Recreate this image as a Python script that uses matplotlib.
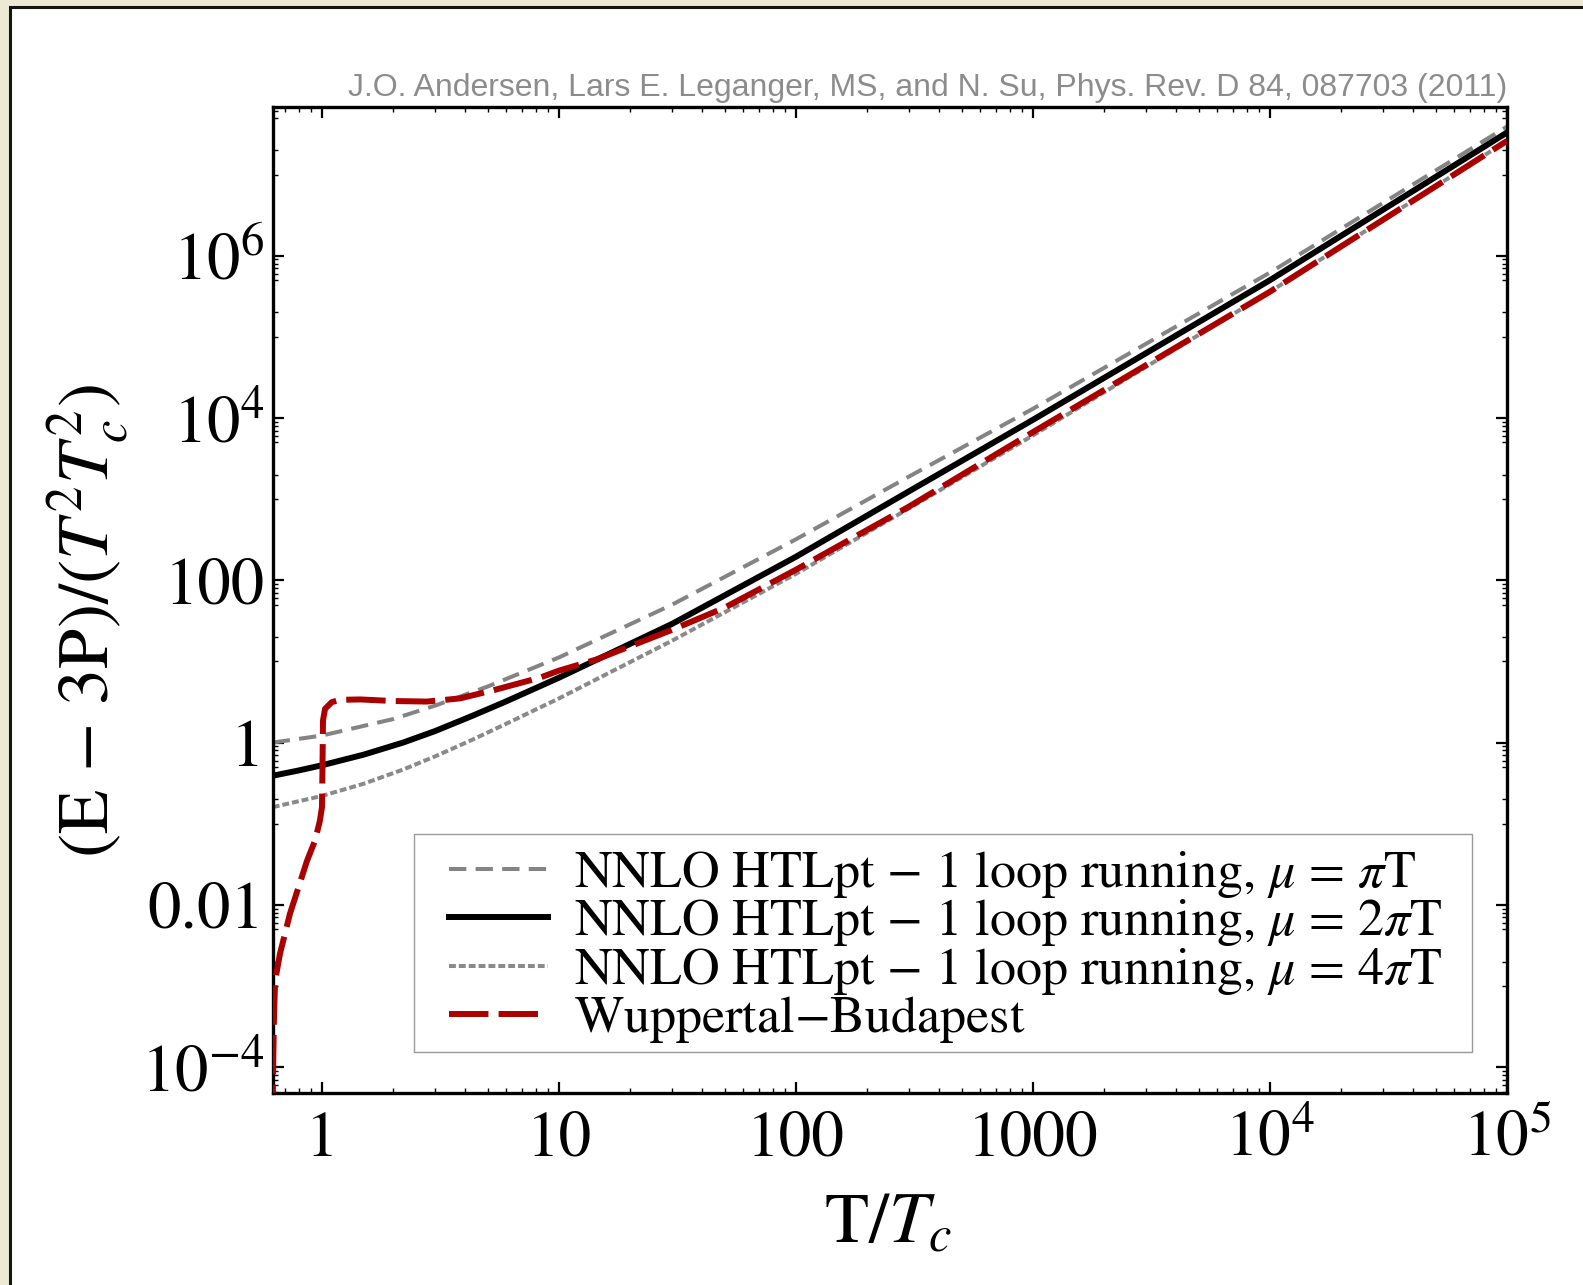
import numpy as np
import matplotlib.pyplot as plt
from matplotlib.patches import Rectangle
from matplotlib.ticker import FixedLocator, NullFormatter

plt.rcParams['font.family'] = 'STIXGeneral'
plt.rcParams['mathtext.fontset'] = 'stix'

# -- Curves: T/Tc and (E-3P)/(T^2 Tc^2)
T_pi = [0.62, 1, 2, 3, 5, 10, 30, 100, 300, 1000, 1e4, 1e5]
E_pi = [1.0, 1.22, 1.95, 2.85, 4.9, 11.2, 50, 320, 1900, 1.3e4, 6.2e5, 3.9e7]

T_2pi = [0.62, 0.8, 1, 1.5, 2.2, 3, 4.3, 5.9, 10, 30, 100, 300, 1000, 1e4, 1e5]
E_2pi = [0.39, 0.454, 0.525, 0.71, 1.0, 1.385, 2.13, 3.16, 6.3, 29, 195, 1250, 9.5e3, 5.0e5, 3.3e7]

T_4pi = [0.62, 1, 1.5, 2.2, 3, 4.3, 5.9, 10, 30, 100, 300, 1000, 1e4, 1e5]
E_4pi = [0.16, 0.22, 0.311, 0.465, 0.675, 1.08, 1.67, 3.5, 18, 120, 770, 6.1e3, 3.6e5, 2.6e7]

T_wb = [0.619, 0.621, 0.627, 0.634, 0.665, 0.733, 0.865, 0.935, 0.98, 1.0, 1.005, 1.01,
        1.03, 1.1, 1.19, 1.45, 2.0, 2.77, 3.82, 5.27, 8.3, 10, 14.3, 30, 50, 100, 300,
        1000, 1e4, 1e5]
E_wb = [2e-5, 6.8e-5, 3.8e-4, 1.15e-3, 2.5e-3, 7.8e-3, 0.035, 0.062, 0.109, 0.16, 0.5, 1.87,
        2.6, 3.15, 3.36, 3.4, 3.25, 3.2, 3.5, 4.4, 6.3, 7.7, 10.5, 24.5, 46, 135, 810,
        6.7e3, 3.6e5, 2.6e7]

labels = [r"NNLO HTLpt $-$ 1 loop running, $\mu$ = $\pi$T",
          r"NNLO HTLpt $-$ 1 loop running, $\mu$ = 2$\pi$T",
          r"NNLO HTLpt $-$ 1 loop running, $\mu$ = 4$\pi$T",
          r"Wuppertal$-$Budapest"]

x_ticks = [1, 10, 100, 1000, 1e4, 1e5]
x_ticklabels = ["1", "10", "100", "1000", r"$10^4$", r"$10^5$"]
y_ticks = [1e-4, 1e-2, 1, 100, 1e4, 1e6]
y_ticklabels = [r"$10^{-4}$", "0.01", "1", "100", r"$10^4$", r"$10^6$"]

W, H = 1583, 1285
fig = plt.figure(figsize=(W / 100, H / 100), dpi=100, facecolor='#ECE9D4')

# -- white panel with dark border (only left/top edges visible)
panel = Rectangle((10 / W, -0.2), 1.5, 1.2 - 7 / H, transform=fig.transFigure,
                  facecolor='white', edgecolor='#151515', lw=2.2, zorder=-5)
fig.add_artist(panel)

ax_l, ax_r, ax_t, ax_b = 272.6, 1507, 107, 1093
ax = fig.add_axes([ax_l / W, 1 - ax_b / H, (ax_r - ax_l) / W, (ax_b - ax_t) / H])
ax.set_xscale('log')
ax.set_yscale('log')

ax.plot(T_pi, E_pi, color='#848484', lw=2.9, dashes=(4.3, 2.3), label=labels[0], zorder=2)
ax.plot(T_2pi, E_2pi, color='black', lw=4.3, label=labels[1], zorder=3)
ax.plot(T_4pi, E_4pi, color='#8a8a8a', lw=2.9, dashes=(1.7, 0.75), label=labels[2], zorder=2.5)
ax.plot(T_wb, E_wb, color='#aa0000', lw=4.3, dashes=(6.6, 1.7), label=labels[3], zorder=4)

ax.set_xlim(0.619, 1e5)
ax.set_ylim(4.8e-5, 6.8e7)

ax.set_xticks(x_ticks, x_ticklabels)
ax.xaxis.set_minor_locator(FixedLocator([m * 10.0 ** k for k in range(-1, 5) for m in range(2, 10)]))
ax.set_yticks(y_ticks, y_ticklabels)
ax.yaxis.set_minor_locator(FixedLocator([m * 10.0 ** k for k in range(-5, 8, 2) for m in (1, 2, 5, 6, 7, 8, 9)]))
ax.xaxis.set_minor_formatter(NullFormatter())
ax.yaxis.set_minor_formatter(NullFormatter())

ax.tick_params(which='both', direction='in', top=True, right=True, colors='black')
ax.tick_params(which='major', length=8, width=1.6)
ax.tick_params(which='minor', length=3.6, width=1.0)
ax.tick_params(axis='x', which='major', labelsize=47, pad=45)
ax.tick_params(axis='y', which='major', labelsize=48, pad=6)
for lbl in ax.get_xticklabels():
    lbl.set_verticalalignment('baseline')

for sp in ax.spines.values():
    sp.set_linewidth(2.4)

fig.text(888 / W, 1 - 1225 / H, r"T/$T_c$", fontsize=52, ha='center', va='center')
fig.text(89 / W, 1 - 621 / H, r"(E $-$ 3P)/($T^2T_c^2$)", fontsize=52, rotation=90,
         ha='center', va='center')

fig.text(1507 / W, 1 - 96 / H,
         "J.O. Andersen, Lars E. Leganger, MS, and N. Su, Phys. Rev. D 84, 087703 (2011)",
         family='Liberation Sans', color='#8c8c8c', fontsize=23, ha='right', va='baseline')

# -- legend without its own frame, frame drawn separately
aw, ah = ax_r - ax_l, ax_b - ax_t
leg = ax.legend(loc='upper left', bbox_to_anchor=((449 - ax_l) / aw, (ax_b - 849) / ah),
                borderaxespad=0, borderpad=0, fontsize=37.5, handlelength=1.9,
                handletextpad=0.5, labelspacing=-0.05, frameon=False)
leg.set_zorder(6)
frame = Rectangle(((414 - ax_l) / aw, (ax_b - 1052) / ah), (1472 - 414) / aw, (1052 - 834) / ah,
                  transform=ax.transAxes, facecolor='white', edgecolor='#9a9a9a', lw=1.0, zorder=5)
ax.add_patch(frame)

fig.savefig('out.png', dpi=100, facecolor=fig.get_facecolor())
